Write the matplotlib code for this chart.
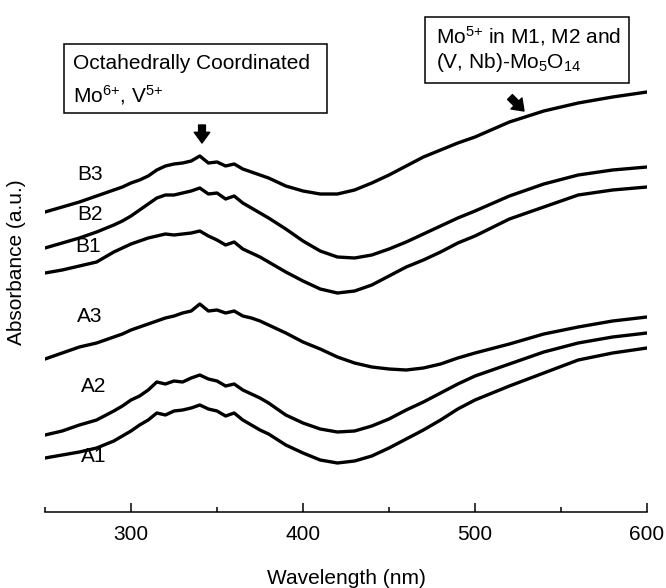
import matplotlib
matplotlib.use('Agg')
import matplotlib.pyplot as plt
from matplotlib.patches import Rectangle
from matplotlib.ticker import MultipleLocator

plt.rcParams['font.family'] = ['Liberation Sans', 'DejaVu Sans']
plt.rcParams['mathtext.fontset'] = 'custom'
plt.rcParams['mathtext.rm'] = 'Liberation Sans'
plt.rcParams['mathtext.it'] = 'Liberation Sans'

wavelength = [250, 260, 270, 280, 290, 295, 300, 305, 310, 315, 320, 325, 330, 335,
              340, 345, 350, 355, 360, 365, 370, 375, 380, 390, 400, 410, 420, 430,
              440, 450, 460, 470, 480, 490, 500, 520, 540, 560, 580, 600]

b3 = [3.00, 3.05, 3.10, 3.16, 3.22, 3.25, 3.29, 3.32, 3.36, 3.42, 3.46, 3.48, 3.49, 3.51,
      3.56, 3.49, 3.50, 3.46, 3.48, 3.43, 3.40, 3.37, 3.34, 3.26, 3.21, 3.18, 3.18, 3.22,
      3.29, 3.37, 3.46, 3.55, 3.62, 3.69, 3.75, 3.90, 4.01, 4.09, 4.15, 4.20]
b2 = [2.64, 2.69, 2.74, 2.80, 2.87, 2.91, 2.96, 3.02, 3.08, 3.14, 3.17, 3.17, 3.19, 3.21,
      3.24, 3.18, 3.19, 3.13, 3.16, 3.09, 3.04, 2.99, 2.94, 2.83, 2.71, 2.61, 2.55, 2.54,
      2.57, 2.63, 2.70, 2.78, 2.86, 2.94, 3.01, 3.16, 3.28, 3.37, 3.42, 3.45]
b1 = [2.39, 2.42, 2.46, 2.50, 2.60, 2.64, 2.68, 2.71, 2.74, 2.76, 2.78, 2.77, 2.78, 2.79,
      2.81, 2.76, 2.72, 2.67, 2.70, 2.63, 2.59, 2.55, 2.50, 2.40, 2.31, 2.23, 2.19, 2.21,
      2.27, 2.36, 2.45, 2.52, 2.60, 2.69, 2.76, 2.93, 3.05, 3.17, 3.22, 3.25]
a3 = [1.53, 1.59, 1.65, 1.69, 1.75, 1.78, 1.82, 1.85, 1.88, 1.91, 1.94, 1.96, 1.99, 2.01,
      2.08, 2.01, 2.02, 1.99, 2.01, 1.96, 1.94, 1.91, 1.87, 1.79, 1.70, 1.63, 1.55, 1.49,
      1.45, 1.43, 1.42, 1.44, 1.48, 1.54, 1.59, 1.68, 1.78, 1.85, 1.91, 1.95]
a2 = [0.77, 0.81, 0.87, 0.92, 1.01, 1.06, 1.12, 1.16, 1.22, 1.30, 1.28, 1.31, 1.30, 1.34,
      1.37, 1.33, 1.31, 1.26, 1.28, 1.22, 1.18, 1.14, 1.09, 0.97, 0.89, 0.83, 0.80, 0.81,
      0.86, 0.93, 1.02, 1.10, 1.19, 1.28, 1.36, 1.48, 1.60, 1.69, 1.75, 1.79]
a1 = [0.54, 0.57, 0.60, 0.64, 0.71, 0.76, 0.81, 0.87, 0.92, 0.99, 0.97, 1.01, 1.02, 1.04,
      1.07, 1.03, 1.01, 0.96, 0.99, 0.92, 0.87, 0.82, 0.78, 0.67, 0.59, 0.52, 0.49, 0.51,
      0.56, 0.64, 0.73, 0.82, 0.92, 1.03, 1.12, 1.26, 1.39, 1.52, 1.59, 1.64]

series = [b3, b2, b1, a3, a2, a1]
labels = ['B3', 'B2', 'B1', 'A3', 'A2', 'A1']
label_x = [276, 276, 275, 276, 278.5, 278.5]
label_y = [3.38, 2.97, 2.66, 1.96, 1.25, 0.56]

fig = plt.figure(figsize=(6.66, 5.88), dpi=100)
ax = fig.add_axes([45 / 666, 76 / 588, 602 / 666, 500 / 588])

for ys in series:
    ax.plot(wavelength, ys, color='black', lw=2.4, solid_joinstyle='round')

for lab, lx, ly in zip(labels, label_x, label_y):
    ax.text(lx, ly, lab, fontsize=15, ha='center', va='center')

ax.set_xlim(250, 600)
ax.set_ylim(0, 5.0)
ax.xaxis.set_major_locator(MultipleLocator(100))
ax.xaxis.set_minor_locator(MultipleLocator(50))
ax.tick_params(axis='x', which='major', direction='in', length=6.5, width=1.1,
               labelsize=15, pad=9)
ax.tick_params(axis='x', which='minor', direction='in', length=3.5, width=1.1)
ax.set_yticks([])
for side in ['left', 'top', 'right']:
    ax.spines[side].set_visible(False)
ax.spines['bottom'].set_linewidth(1.1)

ax.set_xlabel('Wavelength (nm)', fontsize=15)
ax.xaxis.set_label_coords(0.5, -0.113)
ax.set_ylabel('Absorbance (a.u.)', fontsize=15)
ax.yaxis.set_label_coords(-0.032, 0.5)

# annotation boxes (figure pixel coordinates, origin bottom-left)
H = 588
fig.patches.append(Rectangle((64, H - 113), 263, 69, transform=None, fill=False,
                             lw=1.1, ec='black', figure=fig))
fig.text(73 / 666, (H - 69) / H, 'Octahedrally Coordinated', fontsize=15, va='baseline')
fig.text(73 / 666, (H - 102) / H, 'Mo$^{6{+}}$, V$^{5{+}}$', fontsize=15, va='baseline')

fig.patches.append(Rectangle((425, H - 83), 204, 66, transform=None, fill=False,
                             lw=1.1, ec='black', figure=fig))
fig.text(436 / 666, (H - 43) / H, 'Mo$^{5{+}}$ in M1, M2 and', fontsize=15, va='baseline')
fig.text(436 / 666, (H - 68) / H, '(V, Nb)-Mo$_{5}$O$_{14}$', fontsize=15, va='baseline')

arrow = dict(arrowstyle='simple,head_length=0.55,head_width=0.8,tail_width=0.35',
             color='black', shrinkA=0, shrinkB=0, mutation_scale=14)
ax.annotate('', xy=(202, H - 143), xytext=(202, H - 125), xycoords='figure pixels',
            textcoords='figure pixels', arrowprops=arrow)
ax.annotate('', xy=(524, H - 111), xytext=(510, H - 97), xycoords='figure pixels',
            textcoords='figure pixels', arrowprops=arrow)

fig.savefig('out.png', dpi=100)
